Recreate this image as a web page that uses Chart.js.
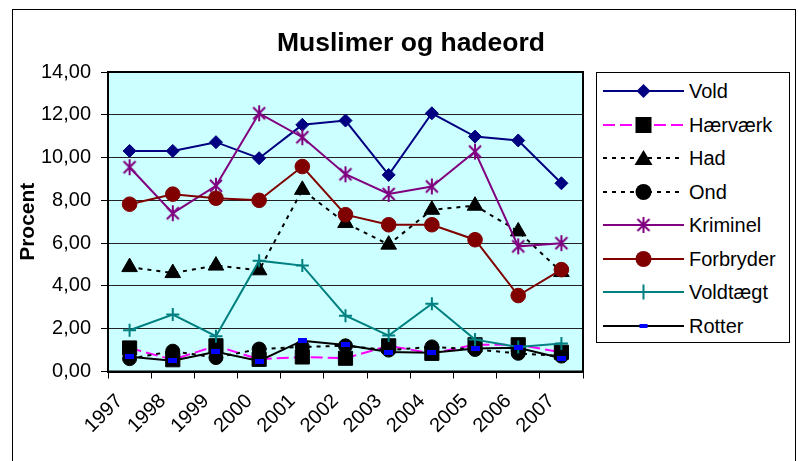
<!DOCTYPE html>
<html><head><meta charset="utf-8">
<script src="https://cdn.jsdelivr.net/npm/chart.js@4/dist/chart.umd.min.js"></script>
<style>
html,body{margin:0;padding:0;background:#fff;}
#wrap{position:relative;width:798px;height:461px;overflow:hidden;font-family:"Liberation Sans",Arial,sans-serif;color:#000;}
#frame{position:absolute;left:12px;top:9px;width:784px;height:470px;border:1px solid #000;box-sizing:border-box;}
#title{position:absolute;left:211px;width:400px;top:26px;text-align:center;font-weight:bold;font-size:26.5px;line-height:32px;}
#c{position:absolute;left:0;top:0;}
#legend{position:absolute;left:596px;top:72px;width:194px;height:271px;border:1px solid #000;box-sizing:border-box;background:#fff;}
.row{position:absolute;left:0;height:24px;width:190px;}
.row canvas{position:absolute;left:5px;top:0;}
.row span{position:absolute;left:92px;top:0;line-height:24px;font-size:20px;white-space:nowrap;}
</style>
</head><body>
<div id="wrap">
  <div id="frame"></div>
  <canvas id="c" width="798" height="461"></canvas>
  <div id="title">Muslimer og hadeord</div>
  <div id="legend"></div>
</div>
<script>
const years = ['1997','1998','1999','2000','2001','2002','2003','2004','2005','2006','2007'];
const vold      = [10.31, 10.31, 10.72, 9.97, 11.53, 11.73, 9.19, 12.07, 10.98, 10.80, 8.80];
const haervaerk = [1.10, 0.55, 1.20, 0.57, 0.68, 0.62, 1.20, 0.85, 1.25, 1.25, 0.90];
const had       = [4.88, 4.60, 4.95, 4.73, 8.49, 6.94, 5.93, 7.56, 7.75, 6.55, 4.65];
const ond       = [0.60, 0.95, 0.65, 1.05, 1.15, 1.20, 1.00, 1.15, 1.03, 0.85, 0.72];
const kriminel  = [9.55, 7.40, 8.68, 12.07, 10.95, 9.22, 8.30, 8.65, 10.28, 5.85, 6.00];
const forbryder = [7.82, 8.29, 8.10, 8.00, 9.58, 7.33, 6.86, 6.86, 6.16, 3.55, 4.76];
const voldtaegt = [1.93, 2.66, 1.65, 5.18, 4.95, 2.61, 1.68, 3.17, 1.49, 1.15, 1.31];
const rotter    = [0.69, 0.50, 0.92, 0.49, 1.44, 1.24, 0.91, 0.88, 1.08, 1.11, 0.62];
const yTicks = [0, 2, 4, 6, 8, 10, 12, 14];

const FONT = '"Liberation Sans", Arial, sans-serif';
Chart.defaults.font.family = FONT;
Chart.defaults.color = '#000';

// custom marker images
function makeStar(color){
  const c = document.createElement('canvas'); c.width = 18; c.height = 18;
  const g = c.getContext('2d'); g.strokeStyle = color; g.lineWidth = 2;
  g.beginPath();
  g.moveTo(3,3); g.lineTo(15,15); g.moveTo(15,3); g.lineTo(3,15);
  g.moveTo(9,1); g.lineTo(9,17); g.stroke();
  return c;
}
function makeDash(color){
  const c = document.createElement('canvas'); c.width = 9; c.height = 5;
  const g = c.getContext('2d'); g.fillStyle = color; g.fillRect(0,0,9,5);
  return c;
}
const starImg = makeStar('#800080');
const dashImg = makeDash('#0000FF');

const series = [
  {label:'Vold', data:vold, color:'#000080', dash:[], marker:'rectRot', mfill:'#000080', r:6.5, bw:1},
  {label:'Hærværk', data:haervaerk, color:'#FF00FF', dash:[12,5], marker:'rect', mfill:'#000', mborder:'#000', r:10, bw:1},
  {label:'Had', data:had, color:'#000', dash:[4,5], marker:'triangle', mfill:'#000', r:9, bw:1},
  {label:'Ond', data:ond, color:'#000', dash:[4,5], marker:'circle', mfill:'#000', r:7, bw:1},
  {label:'Kriminel', data:kriminel, color:'#800080', dash:[], marker:starImg, mfill:'#800080', r:8, bw:2},
  {label:'Forbryder', data:forbryder, color:'#800000', dash:[], marker:'circle', mfill:'#800000', r:7.3, bw:1},
  {label:'Voldtægt', data:voldtaegt, color:'#008080', dash:[], marker:'cross', mfill:'#008080', r:6.5, bw:2},
  {label:'Rotter', data:rotter, color:'#000', dash:[], marker:dashImg, mfill:'#0000FF', r:5, bw:1}
];

const datasets = series.map((s, i) => ({
  label: s.label,
  data: s.data,
  borderColor: s.color,
  borderWidth: 2,
  borderDash: s.dash,
  fill: false,
  tension: 0,
  pointStyle: s.marker,
  pointRadius: s.r,
  pointHoverRadius: s.r,
  pointBackgroundColor: s.mfill,
  pointBorderColor: s.mborder || s.mfill,
  pointBorderWidth: s.bw,
  order: series.length - i
}));

const plotFrame = {
  id: 'plotFrame',
  beforeDraw(chart){
    const {ctx, chartArea:a} = chart;
    ctx.save(); ctx.fillStyle = '#CCFFFF';
    ctx.fillRect(a.left, a.top, a.right - a.left, a.bottom - a.top);
    ctx.restore();
  },
  beforeDatasetsDraw(chart){
    const {ctx, chartArea:a} = chart;
    ctx.save(); ctx.strokeStyle = '#000'; ctx.lineWidth = 2;
    ctx.strokeRect(a.left, a.top, a.right - a.left, a.bottom - a.top);
    ctx.restore();
  }
};

new Chart(document.getElementById('c'), {
  type: 'line',
  data: { labels: years, datasets },
  plugins: [plotFrame],
  options: {
    responsive: false,
    animation: false,
    events: [],
    layout: { padding: { left: 12, top: 72, right: 215, bottom: 0 } },
    plugins: { legend: { display: false }, title: { display: false }, tooltip: { enabled: false } },
    scales: {
      x: {
        type: 'category',
        offset: true,
        grid: { offset: true, drawOnChartArea: false, drawTicks: true, tickLength: 7, tickColor: '#000', tickWidth: 1 },
        border: { color: '#000', width: 2 },
        ticks: { font: { size: 20 }, color: '#000', minRotation: 45, maxRotation: 45, autoSkip: false, padding: 11, labelOffset: -10 },
        afterFit(s){ s.height = 89.5; }
      },
      y: {
        min: 0, max: 14,
        afterBuildTicks(s){ s.ticks = yTicks.map(v => ({ value: v })); },
        grid: { color: '#222', lineWidth: 1, drawTicks: true, tickLength: 7, tickColor: '#000' },
        border: { color: '#000', width: 2 },
        ticks: { font: { size: 20 }, color: '#000', padding: 10, callback: v => v.toFixed(2).replace('.', ',') },
        title: { display: true, text: 'Procent', font: { size: 21, weight: 'bold' }, color: '#000', padding: { top: 4, bottom: 4 } },
        afterFit(s){ s.width = 96; }
      }
    }
  }
});

// legend (HTML text with small drawn symbols)
const leg = document.getElementById('legend');
function drawMarker(g, s, cx, cy){
  g.save();
  g.setLineDash([]);
  if (s.marker === 'rectRot'){
    g.fillStyle = s.mfill; g.beginPath();
    g.moveTo(cx, cy-7); g.lineTo(cx+7, cy); g.lineTo(cx, cy+7); g.lineTo(cx-7, cy); g.closePath(); g.fill();
  } else if (s.marker === 'rect'){
    g.fillStyle = '#000'; g.fillRect(cx-8, cy-8, 16, 16);
  } else if (s.marker === 'triangle'){
    g.fillStyle = '#000'; g.beginPath();
    g.moveTo(cx, cy-8); g.lineTo(cx+9, cy+7); g.lineTo(cx-9, cy+7); g.closePath(); g.fill();
  } else if (s.marker === 'circle'){
    g.fillStyle = s.mfill; g.beginPath(); g.arc(cx, cy, 8, 0, Math.PI*2); g.fill();
  } else if (s.marker === 'cross'){
    g.strokeStyle = s.mfill; g.lineWidth = 2; g.beginPath();
    g.moveTo(cx, cy-7.5); g.lineTo(cx, cy+7.5); g.moveTo(cx-7, cy); g.lineTo(cx+7, cy); g.stroke();
  } else if (s.marker === starImg){
    g.drawImage(starImg, cx-9, cy-9);
  } else {
    g.fillStyle = '#0000FF'; g.fillRect(cx-4, cy-2, 8, 4);
  }
  g.restore();
}
series.forEach((s, i) => {
  const row = document.createElement('div');
  row.className = 'row';
  row.style.top = (18 + 33.5 * i - 12) + 'px';
  const cv = document.createElement('canvas'); cv.width = 83; cv.height = 24;
  const g = cv.getContext('2d');
  g.strokeStyle = s.color; g.lineWidth = 2; g.setLineDash(s.dash);
  g.beginPath(); g.moveTo(1, 12); g.lineTo(82, 12); g.stroke();
  drawMarker(g, s, 41.5, 12);
  const sp = document.createElement('span'); sp.textContent = s.label;
  row.appendChild(cv); row.appendChild(sp);
  leg.appendChild(row);
});
</script>
</body></html>
